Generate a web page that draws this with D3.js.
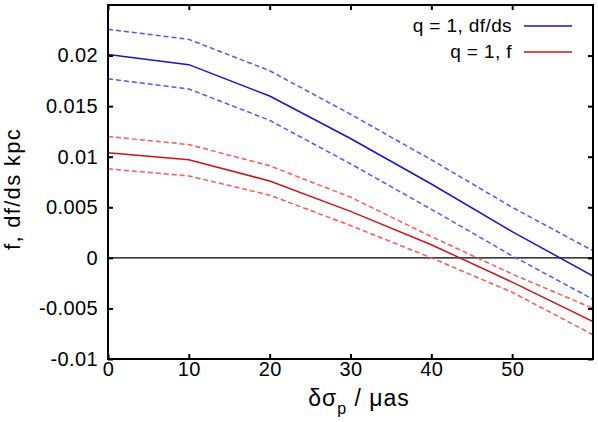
<!DOCTYPE html>
<html><head><meta charset="utf-8">
<script src="https://cdn.jsdelivr.net/npm/d3@7"></script>
<style>body{margin:0;background:#fff}svg{display:block}text{font-family:"Liberation Sans",Arial,Helvetica,sans-serif}</style>
</head><body><svg id="c" width="598" height="422"></svg>
<script>
const xs = [0, 10, 20, 30, 40, 50, 60];
const dfdsMid = [0.0201, 0.0191, 0.0160, 0.0118, 0.0073, 0.0026, -0.0018];
const dfdsHi  = [0.0226, 0.0216, 0.0185, 0.0142, 0.0097, 0.0050, 0.0007];
const dfdsLo  = [0.0177, 0.0167, 0.0136, 0.0093, 0.0048, 0.0002, -0.0041];
const fMid = [0.0104, 0.0097, 0.0076, 0.0046, 0.0013, -0.0024, -0.0063];
const fHi  = [0.0120, 0.0112, 0.0091, 0.0060, 0.0021, -0.0016, -0.0050];
const fLo  = [0.0088, 0.0081, 0.0062, 0.0032, 0.0000, -0.0034, -0.0076];
const xTicks = [0, 10, 20, 30, 40, 50];
const yTicks = [-0.01, -0.005, 0, 0.005, 0.01, 0.015, 0.02];
const yTickLabels = ["-0.01", "-0.005", "0", "0.005", "0.01", "0.015", "0.02"];
const legendLabels = ["q = 1, df/ds", "q = 1, f"];

const svg = d3.select("#c");
const L = 108, R = 593, T = 5, B = 359;
const x = d3.scaleLinear().domain([0, 60]).range([L, R]);
const y = d3.scaleLinear().domain([-0.01, 0.025]).range([B, T]);

// zero line
svg.append("line").attr("x1", L).attr("x2", R).attr("y1", y(0)).attr("y2", y(0))
  .attr("stroke", "#000").attr("stroke-width", 1.2);

const line = d3.line().x((d, i) => x(xs[i])).y(d => y(d));
const series = [
  {v: dfdsHi, c: "#5555ff", dash: "5,3"},
  {v: dfdsLo, c: "#5555ff", dash: "5,3"},
  {v: fHi, c: "#ff5555", dash: "5,3"},
  {v: fLo, c: "#ff5555", dash: "5,3"},
  {v: dfdsMid, c: "#1515cc", dash: null},
  {v: fMid, c: "#cc1515", dash: null}
];
svg.append("clipPath").attr("id", "clp").append("rect")
  .attr("x", L).attr("y", T).attr("width", R - L).attr("height", B - T);
series.forEach(s => {
  const p = svg.append("path").attr("d", line(s.v)).attr("fill", "none")
    .attr("stroke", s.c).attr("stroke-width", 1.5).attr("clip-path", "url(#clp)");
  if (s.dash) p.attr("stroke-dasharray", s.dash);
});

// axes with inward ticks
const fs = 20, ls = "0.4px";
const ax = svg.append("g").attr("transform", `translate(0,${B})`)
  .call(d3.axisBottom(x).tickValues(xTicks).tickSize(-5).tickPadding(3).tickFormat(d3.format("d")));
const axT = svg.append("g").attr("transform", `translate(0,${T})`)
  .call(d3.axisTop(x).tickValues(xTicks).tickSize(-5).tickFormat(""));
const ay = svg.append("g").attr("transform", `translate(${L},0)`)
  .call(d3.axisLeft(y).tickValues(yTicks).tickSize(-5).tickPadding(10).tickFormat((d, i) => yTickLabels[i]));
const ayR = svg.append("g").attr("transform", `translate(${R},0)`)
  .call(d3.axisRight(y).tickValues(yTicks).tickSize(-5).tickFormat(""));
[ax, axT, ay, ayR].forEach(g => {
  g.select(".domain").remove();
  g.selectAll(".tick line").attr("stroke", "#000").attr("stroke-width", 2);
  g.selectAll("text").attr("font-size", fs).attr("fill", "#000").attr("letter-spacing", ls)
    .style("font-family", '"Liberation Sans",Arial,sans-serif');
});
// frame
svg.append("rect").attr("x", L).attr("y", T).attr("width", R - L).attr("height", B - T)
  .attr("fill", "none").attr("stroke", "#000").attr("stroke-width", 2);

// axis labels
const xl = svg.append("text").attr("x", 359).attr("y", 406).attr("text-anchor", "middle")
  .attr("font-size", 23).attr("letter-spacing", "1px");
xl.append("tspan").text("δσ");
xl.append("tspan").attr("font-size", 16).attr("dy", 8).text("p");
xl.append("tspan").attr("dy", -8).text(" / μas");

svg.append("text").attr("transform", "translate(20,189) rotate(-90)")
  .attr("text-anchor", "middle").attr("font-size", 22).attr("letter-spacing", "1.3px")
  .text("f, df/ds kpc");

// legend
const lg = [{t: legendLabels[0], c: "#1515cc", yy: 26}, {t: legendLabels[1], c: "#cc1515", yy: 52}];
lg.forEach(d => {
  svg.append("text").attr("x", 512).attr("y", d.yy + 6).attr("text-anchor", "end")
    .attr("font-size", 19).attr("letter-spacing", "0.4px").text(d.t);
  svg.append("line").attr("x1", 524).attr("x2", 572).attr("y1", d.yy).attr("y2", d.yy)
    .attr("stroke", d.c).attr("stroke-width", 1.5);
});
</script></body></html>
